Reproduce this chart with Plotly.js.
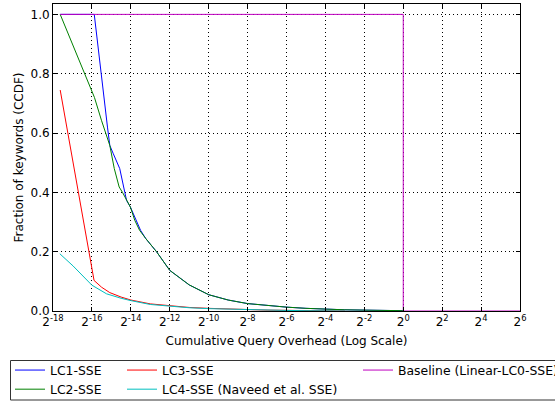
<!DOCTYPE html>
<html><head><meta charset="utf-8">
<script src="https://cdn.plot.ly/plotly-3.0.1.min.js"></script>
<style>html,body{margin:0;padding:0;background:#fff}#chart{width:555px;height:402px}</style>
</head><body><div id="chart"></div><script>
// x values are powers of two: exponent (log2 of overhead)
const tickExps = [-18,-16,-14,-12,-10,-8,-6,-4,-2,0,2,4,6];
const yTicks = [0.0,0.2,0.4,0.6,0.8,1.0];

const lc1Exp = [-17.63,-15.88,-15.2,-15.08,-14.9,-14.74,-14.57,-14.31,-14.22,-14.02,-13.85,-13.71,-13.5,-13.23,-12.68,-12,-11,-10,-9,-8,-7,-6,-5,-4,-3,-2,-1,0];
const lc1Val = [1.0,1.0,0.62,0.558,0.53,0.507,0.48,0.4,0.373,0.35,0.325,0.306,0.272,0.244,0.2,0.137,0.088,0.055,0.037,0.025,0.018,0.013,0.009,0.006,0.004,0.003,0.002,0.001];

const lc2Exp = [-17.63,-16.40,-15.87,-15.51,-15.34,-15.08,-14.85,-14.6,-14.43,-14.22,-14.02,-13.8,-13.55,-13.23,-12.68,-12,-11,-10,-9,-8,-7,-6,-5,-4,-3,-2,-1,0];
const lc2Val = [1.0,0.8,0.72,0.643,0.609,0.558,0.48,0.418,0.4,0.373,0.35,0.306,0.272,0.244,0.2,0.137,0.088,0.055,0.037,0.025,0.018,0.013,0.009,0.006,0.004,0.003,0.002,0.001];

const lc3Exp = [-17.63,-15.89,-15.5,-15.08,-14.5,-14.0,-13.0,-12.0,-11.0,-10.0,-9.0,-8.0,-7.0,-6.0,-5.0,-4.0,-3.0];
const lc3Val = [0.745,0.103,0.08,0.062,0.047,0.037,0.024,0.017,0.012,0.009,0.006,0.005,0.003,0.002,0.001,0.0005,0];

const lc4Exp = [-17.65,-16.97,-16.0,-15.25,-14.5,-14.0,-13.0,-12.0,-11.0,-10.0,-9.0,-8.0,-7.0,-6.0,-5.0,-4.0,-3.0];
const lc4Val = [0.193,0.152,0.087,0.058,0.043,0.035,0.022,0.016,0.011,0.008,0.006,0.004,0.003,0.002,0.001,0.0005,0];

const baseExp = [-17.63,0,0,6];
const baseVal = [1,1,0,0];

const pow2 = a => a.map(e => Math.pow(2, e));
const FONT = 'DejaVu Sans, sans-serif';

function tr(xe, yv, name, color, legend) {
  return {x: pow2(xe), y: yv, name: name, type: 'scatter', mode: 'lines',
          line: {color: color, width: 1}, legend: legend, hoverinfo: 'skip'};
}

const data = [
  tr(lc1Exp, lc1Val, 'LC1-SSE', '#0000ff', 'legend'),
  tr(lc2Exp, lc2Val, 'LC2-SSE', '#008000', 'legend'),
  tr(lc3Exp, lc3Val, 'LC3-SSE', '#ff0000', 'legend2'),
  tr(lc4Exp, lc4Val, 'LC4-SSE (Naveed et al. SSE)', '#00bfbf', 'legend2'),
  tr(baseExp, baseVal, 'Baseline (Linear-LC0-SSE)', '#bf00bf', 'legend3')
];

const PW = 467, PH = 307, ML = 53, MT = 4;
const px2x = p => (p - ML) / PW;
const py2y = p => 1 - (p - MT) / PH;

const legBase = {orientation: 'v', bgcolor: 'rgba(0,0,0,0)', borderwidth: 0,
  font: {family: FONT, size: 12.4, color: '#000'}, xanchor: 'left', yanchor: 'top',
  tracegroupgap: 0, itemclick: false, itemdoubleclick: false};

const layout = {
  width: 555, height: 402,
  margin: {l: ML, r: 35, t: MT, b: 91, pad: 0, autoexpand: false},
  paper_bgcolor: '#fff', plot_bgcolor: '#fff',
  font: {family: FONT, size: 12, color: '#000'},
  showlegend: true,
  xaxis: {
    type: 'log', automargin: false,
    range: [Math.log10(Math.pow(2, -18)), Math.log10(Math.pow(2, 6))],
    tickvals: pow2(tickExps),
    ticktext: tickExps.map(e => '2<sup>' + e + '</sup>'),
    ticks: 'inside', ticklen: 4, tickcolor: '#000', tickwidth: 1,
    showline: true, linecolor: '#000', linewidth: 1, mirror: 'ticks',
    showgrid: true, gridcolor: '#000', gridwidth: 1, griddash: '1px,3px',
    zeroline: false,
    tickfont: {family: FONT, size: 12, color: '#000'},
    title: {text: 'Cumulative Query Overhead (Log Scale)', font: {family: FONT, size: 12, color: '#000'}, standoff: 8}
  },
  yaxis: {
    range: [0, 1.035], automargin: false,
    tickvals: yTicks, tickformat: '.1f',
    ticks: 'inside', ticklen: 4, tickcolor: '#000', tickwidth: 1,
    showline: true, linecolor: '#000', linewidth: 1, mirror: 'ticks',
    showgrid: true, gridcolor: '#000', gridwidth: 1, griddash: '1px,3px',
    zeroline: false,
    tickfont: {family: FONT, size: 12, color: '#000'},
    title: {text: 'Fraction of keywords (CCDF)', font: {family: FONT, size: 12, color: '#000'}, standoff: 4}
  },
  legend: Object.assign({}, legBase, {x: px2x(10), y: py2y(355.5)}),
  legend2: Object.assign({}, legBase, {x: px2x(122), y: py2y(355.5)}),
  legend3: Object.assign({}, legBase, {x: px2x(358), y: py2y(355.5)}),
  shapes: [{type: 'rect', xref: 'paper', yref: 'paper',
    x0: px2x(10.5), x1: px2x(575), y0: py2y(400), y1: py2y(360.5),
    line: {color: '#333', width: 1}, fillcolor: 'rgba(0,0,0,0)', layer: 'above'}]
};

Plotly.newPlot('chart', data, layout, {staticPlot: true, displayModeBar: false});
</script></body></html>
